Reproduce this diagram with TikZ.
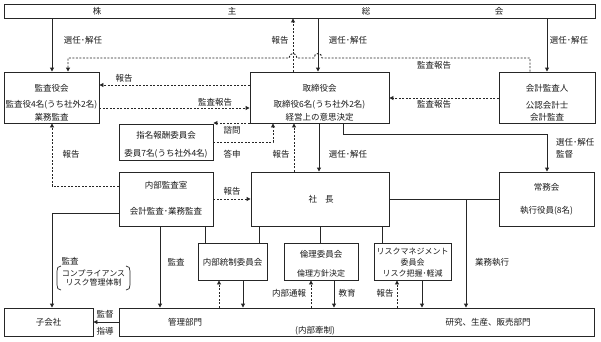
\documentclass[tikz,border=0pt]{standalone}
\usepackage{fontspec}
\setmainfont{Noto Sans CJK JP}
\usetikzlibrary{arrows.meta}
\begin{document}
\begin{tikzpicture}[x=1pt,y=-1pt,
  box/.style 2 args={draw=black!85, line width=0.9pt, inner sep=0pt, minimum width=#1pt, minimum height=#2pt},
  t/.style={font=\fontsize{8.5}{10}\selectfont, inner sep=0pt, text=black!90},
  ts/.style={font=\fontsize{8}{10}\selectfont, inner sep=0pt, text=black!90},
  ln/.style={draw=black!85, line width=0.9pt},
  arr/.style={ln, -{Triangle[length=4pt,width=4pt]}},
  darr/.style={arr, dash pattern=on 2pt off 1.5pt}]
\useasboundingbox (0,0) rectangle (601,341);

% ---- boxes ----
\node[box={591}{14}] (kabu) at (299.5,11) {};
\node[t] (kabu1) at (97,11) {株};
\node[t] (kabu2) at (232,11) {主};
\node[t] (kabu3) at (366,11) {総};
\node[t] (kabu4) at (499,11) {会};

\node[box={95}{51}] (kansa) at (51.5,97.5) {};
\node[t] (kansa1) at (51.5,88) {監査役会};
\node[t] (kansa2) at (51.5,105) {監査役4名(うち社外2名)};
\node[t] (kansa3) at (51.5,117) {業務監査};

\node[box={139}{51}] (tori) at (319.5,97.5) {};
\node[t] (tori1) at (319.5,88) {取締役会};
\node[t] (tori2) at (319.5,105) {取締役6名(うち社外2名)};
\node[t] (tori3) at (319.5,117) {経営上の意思決定};

\node[box={96}{51}] (kaikei) at (547,97.5) {};
\node[t] (kaikei1) at (547,88) {会計監査人};
\node[t] (kaikei2) at (547,105) {公認会計士};
\node[t] (kaikei3) at (547,117) {会計監査};

\node[box={94}{36}] (shimei) at (166,142) {};
\node[t] (shimei1) at (166,135) {指名報酬委員会};
\node[t] (shimei2) at (166,154) {委員7名(うち社外4名)};

\node[box={94}{54}] (naibu) at (166,199) {};
\node[t] (naibu1) at (166,185) {内部監査室};
\node[t] (naibu2) at (166,211) {会計監査･業務監査};

\node[box={138}{54}] (shacho) at (320,199) {};
\node[t] (shacho1) at (321,199) {社\hspace{8pt}長};

\node[box={95}{54}] (jomu) at (546.5,199) {};
\node[t] (jomu1) at (546.5,187) {常務会};
\node[t] (jomu2) at (546.5,211) {執行役員(8名)};

\node[box={69}{37}] (naitou) at (232.5,261.5) {};
\node[t] (naitou1) at (232.5,262) {内部統制委員会};

\node[box={74}{37}] (rinri) at (321,261.5) {};
\node[t] (rinri1) at (321,254) {倫理委員会};
\node[ts] (rinri2) at (321,273) {倫理方針決定};

\node[box={77}{37}] (risk) at (412.5,261.5) {};
\node[ts] (risk1) at (412.5,251) {リスクマネジメント};
\node[ts] (risk2) at (412.5,262) {委員会};
\node[ts] (risk3) at (412.5,273) {リスク把握･軽減};

\node[box={475}{28}] (bar) at (356.5,322) {};
\node[t] (bar1) at (185,322) {管理部門};
\node[t] (bar2) at (315,331) {(内部牽制)};
\node[t] (bar3) at (488,322) {研究、生産、販売部門};

\node[box={89}{28}] (ko) at (48.5,322) {};
\node[t] (ko1) at (48.5,322) {子会社};

% ---- labels ----
\node[t] (l1) at (83,40) {選任･解任};
\node[t] (l2) at (280,40) {報告};
\node[t] (l3) at (348,40) {選任･解任};
\node[t] (l4) at (569,40) {選任･解任};
\node[t] (l5) at (434,65) {監査報告};
\node[t] (l6) at (124,78) {報告};
\node[t] (l7) at (215,102) {監査報告};
\node[t] (l8) at (434,104) {監査報告};
\node[t] (l9) at (232,130) {諮問};
\node[t] (l10) at (232,154) {答申};
\node[t] (l11) at (281,154) {報告};
\node[t] (l12) at (348,154) {選任･解任};
\node[t, anchor=west] (l13) at (556,142) {選任･解任};
\node[t, anchor=west] (l14) at (556,154) {監督};
\node[t] (l15) at (71,154) {報告};
\node[t] (l16) at (232,191) {報告};
\node[t] (l17) at (70,261) {監査};
\node[ts, align=center] (brk) at (93.5,278) {コンプライアンス\\[-1pt]リスク管理体制};
\node[t] (l18) at (176,262) {監査};
\node[t] (l19) at (492,262) {業務執行};
\node[t] (l20) at (289,293) {内部通報};
\node[t] (l21) at (347,293) {教育};
\node[t] (l22) at (385,293) {報告};
\node[t] (l23) at (105,314) {監督};
\node[t] (l24) at (105,331) {指導};

% bracket
\draw[ln, line width=0.7pt] (61,266) .. controls (58,266) and (57,268) .. (57,271) -- (57,285) .. controls (57,288) and (58,290) .. (61,290);
\draw[ln, line width=0.7pt] (126,266) .. controls (129,266) and (130,268) .. (130,271) -- (130,285) .. controls (130,288) and (129,290) .. (126,290);

% ---- connectors ----
\draw[arr] (kabu.south -| 52,0) -- (kansa.north -| 52,0);
\draw[arr] (kabu.south -| 318,0) -- (tori.north -| 318,0);
\draw[arr] (kabu.south -| 547,0) -- (kaikei.north -| 547,0);
\draw[darr] (tori.north -| 293,0) -- (kabu.south -| 293,0);
\draw[darr] (kaikei.north -| 530,0) -- (530,58) -- (322,58)
  .. controls (322,52) and (314,52) .. (314,58) -- (297,58)
  .. controls (297,52) and (289,52) .. (289,58) -- (68,58) -- (kansa.north -| 68,0);
\draw[darr] (tori.west |- 0,85) -- (kansa.east |- 0,85);
\draw[darr] (kansa.east |- 0,108) -- (tori.west |- 0,108);
\draw[darr] (kaikei.west |- 0,98) -- (tori.east |- 0,98);
\draw[darr] (tori.west |- 0,123) -- (shimei.east |- 0,123);
\draw[darr] (shimei.east |- 0,142) -- (273,142) -- (tori.south -| 273,0);
\draw[darr] (shacho.north -| 294,0) -- (tori.south -| 294,0);
\draw[arr] (tori.south -| 319,0) -- (shacho.north -| 319,0);
\draw[arr] (tori.south -| 343,0) -- (343,134) -- (547,134) -- (jomu.north -| 547,0);
\draw[darr] (naibu.west |- 0,186) -- (52,186) -- (kansa.south -| 52,0);
\draw[darr] (naibu.east |- 0,199) -- (shacho.west |- 0,199);
\draw[ln] (shacho.east) -- (jomu.west);
\draw[arr] (shacho.east -| 466,0) -- (bar.north -| 466,0);
\draw[arr] (naibu.west |- 0,213) -- (52,213) -- (ko.north -| 52,0);
\draw[arr] (naibu.south -| 160,0) -- (bar.north -| 160,0);
\draw[ln] (naibu.south -| 205,0) -- (naitou.north -| 205,0);
\draw[ln] (shacho.south -| 259,0) -- (naitou.north -| 259,0);
\draw[ln] (shacho.south -| 320,0) -- (rinri.north -| 320,0);
\draw[ln] (shacho.south -| 382,0) -- (risk.north -| 382,0);
\draw[darr] (bar.north -| 219,0) -- (naitou.south -| 219,0);
\draw[arr] (naitou.south -| 243,0) -- (bar.north -| 243,0);
\draw[darr] (bar.north -| 311,0) -- (rinri.south -| 311,0);
\draw[arr] (rinri.south -| 334,0) -- (bar.north -| 334,0);
\draw[darr] (bar.north -| 397,0) -- (risk.south -| 397,0);
\draw[arr] (risk.south -| 422,0) -- (bar.north -| 422,0);
\draw[arr] (bar.west) -- (ko.east);
\end{tikzpicture}
\end{document}
